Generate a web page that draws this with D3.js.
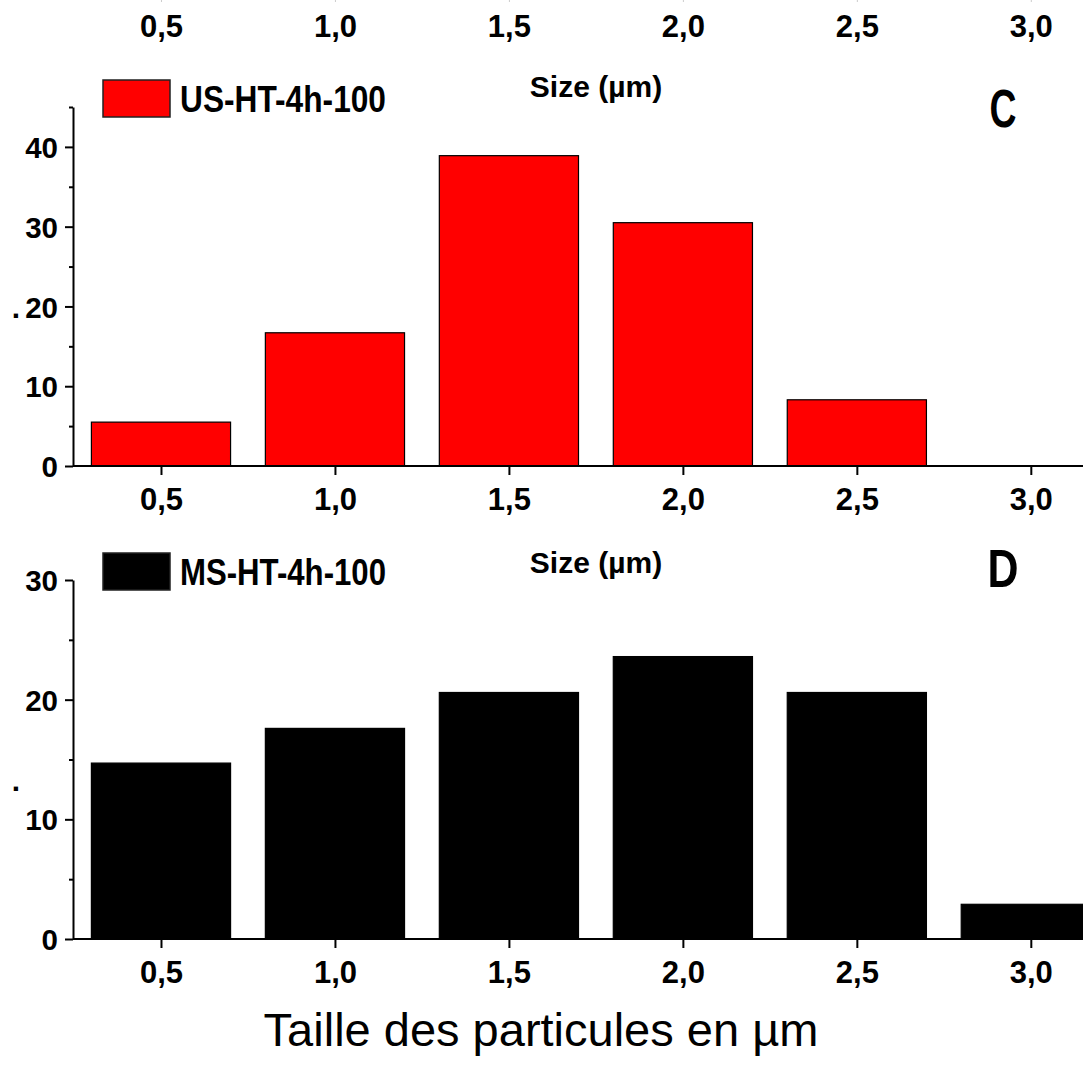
<!DOCTYPE html>
<html>
<head>
<meta charset="utf-8">
<script src="https://cdn.jsdelivr.net/npm/d3@7"></script>
<style>
  html, body { margin: 0; padding: 0; background: #fff; overflow: hidden; }
  svg { display: block; }
  text { font-family: 'Liberation Sans', Arial, sans-serif; }
</style>
</head>
<body>
<svg id="chart" width="1083" height="1079"></svg>
<script>
// ---- data ----
const sizes = [0.5, 1.0, 1.5, 2.0, 2.5, 3.0];
const xTickLabels = ["0,5", "1,0", "1,5", "2,0", "2,5", "3,0"];
const usValues = [5.5, 16.7, 38.9, 30.5, 8.3, 0];
const msValues = [14.7, 17.6, 20.6, 23.6, 20.6, 2.9];
const yTicksC = [0, 10, 20, 30, 40];
const yMinorC = [5, 15, 25, 35, 45];
const yTicksD = [0, 10, 20, 30];
const yMinorD = [5, 15, 25];
const seriesNames = ["US-HT-4h-100", "MS-HT-4h-100"];
const panelLetters = ["C", "D"];
const xTitle = "Size (µm)";
const mainTitle = "Taille des particules en µm";

const svg = d3.select("#chart");
const axisLeftX = 73;
const x = d3.scaleLinear().domain([0.25, 3.15]).range([74, 1083]);
const barHalf = 0.2;
const fmtLabel = v => xTickLabels[sizes.indexOf(v)];

function styleAxis(g, fs) {
  g.selectAll("path.domain").attr("stroke", "#000").attr("stroke-width", 2);
  g.selectAll(".tick line").attr("stroke", "#000").attr("stroke-width", 2);
  g.selectAll(".tick text").attr("fill", "#000")
    .style("font-family", "'Liberation Sans', Arial, sans-serif")
    .style("font-weight", "bold").style("font-size", fs + "px");
}

function panel(cfg) {
  const y = d3.scaleLinear().domain([0, cfg.yMax]).range([cfg.y0, cfg.yTop]);
  const g = svg.append("g");

  // bars
  g.selectAll("rect.bar")
    .data(sizes.map((s, i) => ({ s, v: cfg.values[i] })).filter(d => d.v > 0))
    .join("rect")
    .attr("class", "bar")
    .attr("x", d => x(d.s - barHalf))
    .attr("width", d => x(d.s + barHalf) - x(d.s - barHalf))
    .attr("y", d => y(d.v))
    .attr("height", d => y(0) - y(d.v))
    .attr("fill", cfg.color)
    .attr("stroke", cfg.stroke)
    .attr("stroke-width", 1.2);

  // x axis
  const xa = g.append("g").attr("transform", `translate(0,${cfg.y0})`)
    .call(d3.axisBottom(x).tickValues(sizes).tickFormat(fmtLabel)
      .tickSizeInner(9).tickSizeOuter(0).tickPadding(13));
  styleAxis(xa, 31);
  xa.select("path.domain").attr("d", `M${axisLeftX},0H1083`);

  // y axis major
  const ya = g.append("g").attr("transform", `translate(${axisLeftX},0)`)
    .call(d3.axisLeft(y).tickValues(cfg.yTicks).tickFormat(d3.format("d"))
      .tickSizeInner(8).tickSizeOuter(0).tickPadding(7));
  styleAxis(ya, 29.5);
  ya.selectAll(".tick text").attr("dy", "0.36em");
  // y axis minor
  const ym = g.append("g").attr("transform", `translate(${axisLeftX},0)`)
    .call(d3.axisLeft(y).tickValues(cfg.yMinor).tickFormat("")
      .tickSizeInner(4).tickSizeOuter(0));
  styleAxis(ym, 29);
  ym.select("path.domain").remove();

  // legend
  g.append("rect").attr("x", 103).attr("y", cfg.legY).attr("width", 67).attr("height", 37)
    .attr("fill", cfg.color).attr("stroke", "#222").attr("stroke-width", 1.5);
  g.append("text").attr("x", 180).attr("y", cfg.legY + 32)
    .attr("textLength", 206).attr("lengthAdjust", "spacingAndGlyphs")
    .style("font-weight", "bold").style("font-size", "36px").attr("fill", "#000")
    .text(cfg.name);

  // panel letter
  g.append("text").attr("x", 1003).attr("y", cfg.letterY)
    .attr("text-anchor", "middle")
    .attr("textLength", cfg.letterW).attr("lengthAdjust", "spacingAndGlyphs")
    .style("font-family", "'Liberation Sans', Arial, sans-serif")
    .style("font-weight", "bold").style("font-size", "54px").attr("fill", "#000")
    .text(cfg.letter);

  // dot remnant of hidden y title
  g.append("text").attr("x", 16).attr("y", cfg.dotY).attr("text-anchor", "middle")
    .style("font-weight", "bold").style("font-size", "30px").attr("fill", "#000").text(".");
}

// top strip: tick labels of the panel above (cut off)
const topAxis = svg.append("g").attr("transform", "translate(0,-7)")
  .call(d3.axisBottom(x).tickValues(sizes).tickFormat(fmtLabel)
    .tickSizeInner(9).tickSizeOuter(0).tickPadding(13));
styleAxis(topAxis, 31);
topAxis.select("path.domain").remove();
topAxis.selectAll(".tick line").attr("stroke", "#ccc").attr("stroke-width", 1);

// x-axis titles peeking out from under the next panel
svg.append("text").attr("x", 596).attr("y", 97).attr("text-anchor", "middle")
  .style("font-weight", "bold").style("font-size", "30px").attr("fill", "#000").text(xTitle);
svg.append("text").attr("x", 596).attr("y", 573).attr("text-anchor", "middle")
  .style("font-weight", "bold").style("font-size", "30px").attr("fill", "#000").text(xTitle);

panel({ values: usValues, color: "#ff0000", stroke: "#000", yMax: 45, y0: 466, yTop: 107,
  yTicks: yTicksC, yMinor: yMinorC, legY: 80, name: seriesNames[0],
  letter: panelLetters[0], letterY: 127, letterW: 27, dotY: 318 });
panel({ values: msValues, color: "#000000", stroke: "#000", yMax: 30, y0: 939, yTop: 580,
  yTicks: yTicksD, yMinor: yMinorD, legY: 553, name: seriesNames[1],
  letter: panelLetters[1], letterY: 587, letterW: 31, dotY: 791 });

// main title
svg.append("text").attr("x", 541).attr("y", 1046).attr("text-anchor", "middle")
  .style("font-size", "47px").attr("fill", "#000").text(mainTitle);
</script>
</body>
</html>
